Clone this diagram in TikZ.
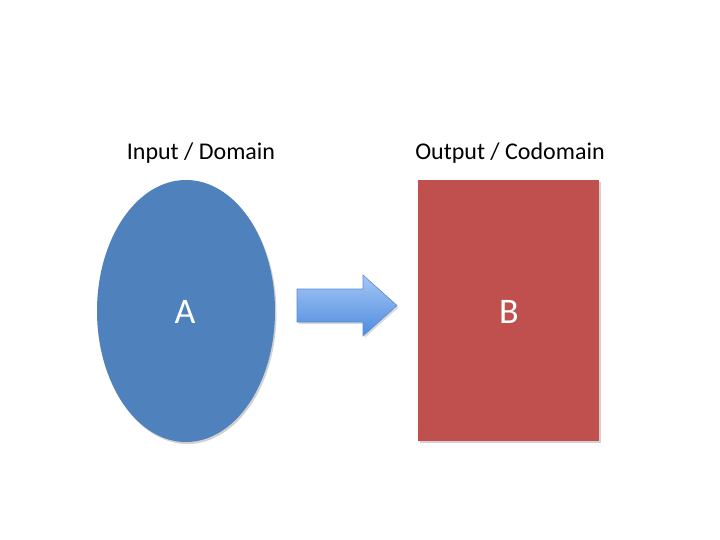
\documentclass[tikz,border=0pt]{standalone}
\usepackage{fontspec}
\setmainfont{Carlito}
\usetikzlibrary{shapes.geometric,shadows}
\definecolor{dblue}{RGB}{79,129,189}
\definecolor{dred}{RGB}{192,80,77}
\definecolor{atop}{RGB}{165,198,245}
\definecolor{abot}{RGB}{78,140,222}
\definecolor{aedge}{RGB}{90,140,210}
\tikzset{
  lbl/.style={font=\fontsize{24}{28}\selectfont, text=black, inner sep=0pt, anchor=base},
  big/.style={font=\fontsize{36}{42}\selectfont, text=white, inner sep=0pt, anchor=base},
  softshadow/.style={drop shadow={shadow xshift=1.5pt, shadow yshift=-2pt, fill=black, opacity=0.18}},
}
\begin{document}
\begin{tikzpicture}[x=1pt,y=-1pt]
\useasboundingbox (0,0) rectangle (720,540);
\fill[white] (0,0) rectangle (720,540);
\node[ellipse, fill=dblue, minimum width=178pt, minimum height=262pt, inner sep=0pt, softshadow] (A) at (186,311) {};
\node[big] (ta) at (185,323) {A};
\node[rectangle, fill=dred, minimum width=181pt, minimum height=261pt, inner sep=0pt, softshadow] (B) at (508.5,310.5) {};
\node[big] (tb) at (509,323) {B};
\node[lbl] (la) at (201,160) {Input / Domain};
\node[lbl] (lb) at (510,160) {Output / Codomain};
\path[top color=atop, bottom color=abot, draw=aedge, line width=0.6pt, line join=miter,
      drop shadow={shadow xshift=1.5pt, shadow yshift=-2pt, fill=black, opacity=0.15}]
  (297,289) -- (363,289) -- (363,275) -- (397,305.5) -- (363,336) -- (363,322) -- (297,322) -- cycle;
\end{tikzpicture}
\end{document}
